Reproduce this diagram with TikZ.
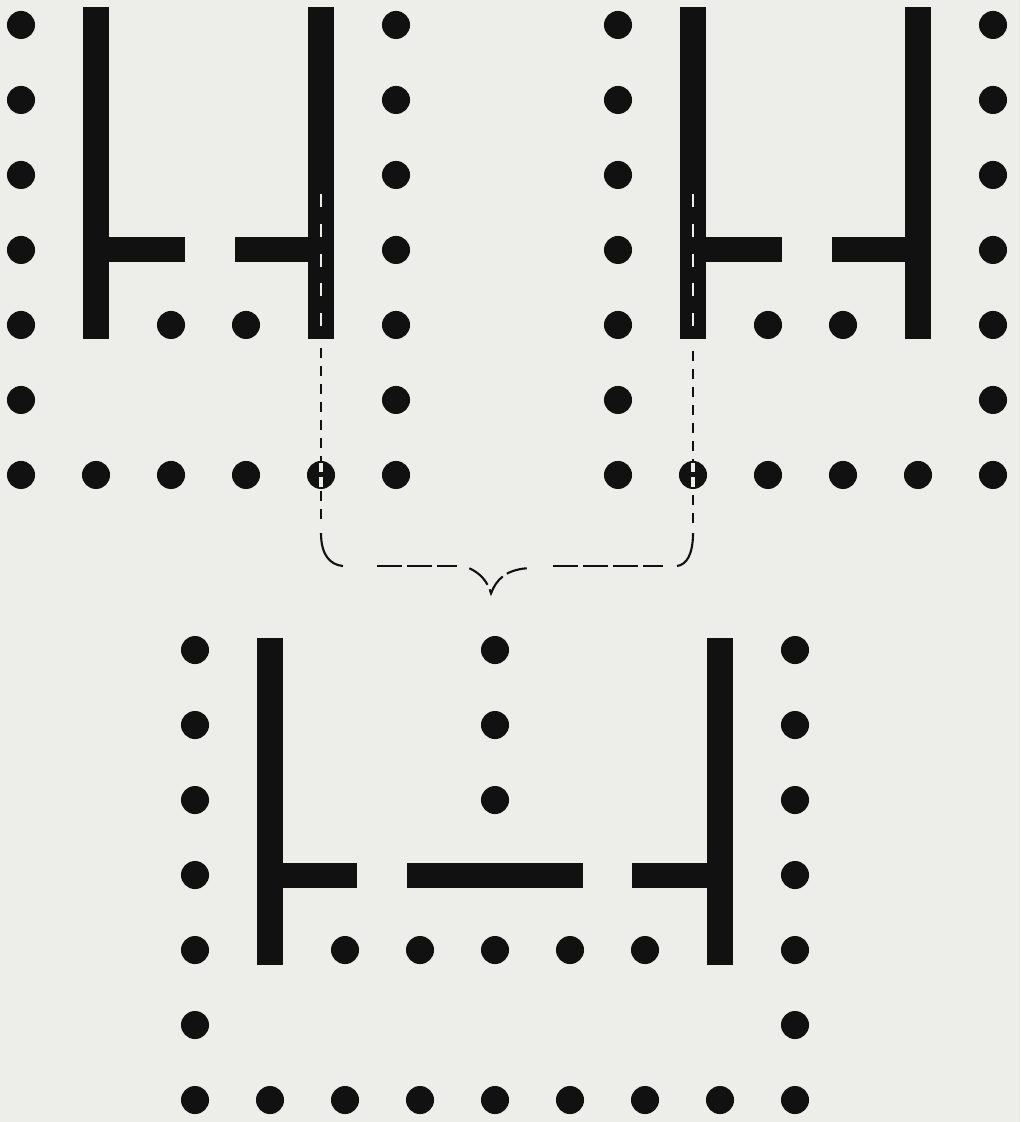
\documentclass[tikz,border=0pt]{standalone}
\usetikzlibrary{calc}
\definecolor{papir}{RGB}{237,237,233}
\definecolor{tinta}{RGB}{17,17,17}
\newcommand{\kor}{0.187}
\tikzset{
  fal/.style={fill=tinta},
  korong/.style={fill=tinta},
  szaggat/.style={draw=tinta,line width=0.8pt,dash pattern=on 3.8pt off 3pt},
  hosszu/.style={draw=tinta,line width=0.8pt,dash pattern=on 9.5pt off 1.9pt},
  ives/.style={draw=tinta,line width=0.8pt},
  feher/.style={draw=papir,line width=1.1pt,dash pattern=on 4.9pt off 6.4pt},
  atmetsz/.style={draw=papir,line width=1.3pt,dash pattern=on 3.6pt off 1.9pt},
}

\begin{document}
\begin{tikzpicture}[x=1cm,y=-1cm]
  \fill[papir] (0,0) rectangle (13.6,14.96);
  \useasboundingbox (0,0) rectangle (13.6,14.96);
  % osszekoto kapcsos vonal
  \coordinate (bal) at (4.28,4.64);
  \coordinate (jobb) at (9.24,4.64);
  \coordinate (csucs) at (6.547,7.911);
  \draw[szaggat] (bal) -- (4.28,6.97);
  \draw[ives] (4.28,7.107) .. controls (4.28,7.4) and (4.4,7.53) .. (4.573,7.547);
  \draw[hosszu] (5.027,7.547) -- (6.093,7.547);
  \draw[hosszu] (6.257,7.577) .. controls (6.40,7.64) and (6.50,7.75) .. (csucs)
    .. controls (6.62,7.72) and (6.75,7.6) .. (7.023,7.577);
  \draw[hosszu] (7.373,7.547) -- (8.84,7.547);
  \draw[ives] (9.027,7.547) .. controls (9.15,7.53) and (9.24,7.4) .. (9.24,7.107);
  \draw[szaggat] (9.24,6.97) -- (jobb);
  % 1-2. felso ket racs
  \foreach \sx in {0.28,8.24} {
    \begin{scope}[shift={(\sx,0.333)}]
      \foreach \y in {0,...,6} {
        \fill[korong] (0,\y) circle (\kor);
        \fill[korong] (5,\y) circle (\kor);
      }
      \foreach \x in {1,...,4} \fill[korong] (\x,6) circle (\kor);
      \foreach \x in {2,3} \fill[korong] (\x,4) circle (\kor);
      \fill[fal] (0.827,-0.24) rectangle (1.173,4.187);
      \fill[fal] (3.827,-0.24) rectangle (4.173,4.187);
      \fill[fal] (1,2.833) rectangle (2.18,3.167);
      \fill[fal] (2.85,2.833) rectangle (4,3.167);
    \end{scope}
  }
  % feher szaggatas a falban es a korongon
  \foreach \lx in {4.28,9.24} {
    \draw[feher] (\lx,2.587) -- (\lx,4.4);
    \draw[atmetsz] (\lx,6.17) -- (\lx,6.5);
  }
  % 3. also racs
  \begin{scope}[shift={(2.6,8.667)}]
    \foreach \y in {0,...,6} {
      \fill[korong] (0,\y) circle (\kor);
      \fill[korong] (8,\y) circle (\kor);
    }
    \foreach \x in {1,...,7} \fill[korong] (\x,6) circle (\kor);
    \foreach \x in {2,...,6} \fill[korong] (\x,4) circle (\kor);
    \foreach \y in {0,1,2} \fill[korong] (4,\y) circle (\kor);
    \fill[fal] (0.827,-0.16) rectangle (1.173,4.2);
    \fill[fal] (6.827,-0.16) rectangle (7.173,4.2);
    \fill[fal] (1,2.833) rectangle (2.16,3.167);
    \fill[fal] (2.83,2.833) rectangle (5.17,3.167);
    \fill[fal] (5.83,2.833) rectangle (7,3.167);
  \end{scope}
\end{tikzpicture}
\end{document}
